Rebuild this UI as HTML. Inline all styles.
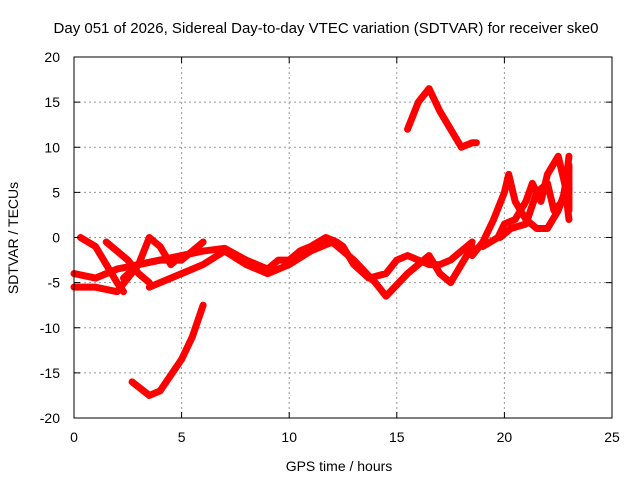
<!DOCTYPE html>
<html><head><meta charset="utf-8"><style>
body{margin:0;background:#fff}
svg{font-family:"Liberation Sans",sans-serif;font-size:15px}
.tk{font-size:14px}
</style></head><body>
<svg id="c" width="640" height="480">
<text x="326" y="33" text-anchor="middle">Day 051 of 2026, Sidereal Day-to-day VTEC variation (SDTVAR) for receiver ske0</text>
<text x="339" y="471" text-anchor="middle" class="tk">GPS time / hours</text>
<text transform="translate(18,238) rotate(-90)" text-anchor="middle" class="tk">SDTVAR / TECUs</text>
<g id="grid"></g><g id="marks"></g><g id="axes"></g>
</svg>
<script>
const xTicks=[0,5,10,15,20,25];
const yTicks=[-20,-15,-10,-5,0,5,10,15,20];
const trackMainX=[0,1,2,3,4,5,6,7,8,8.5,9,9.5,10,10.5,11,11.7,12.2,12.5,13,13.7,14.5,15,15.5,16,16.5,17,17.5,18,18.5];
const trackMainY=[-4,-4.5,-3.5,-3,-2.5,-2,-1.5,-1.2,-2.5,-3,-3.5,-2.5,-2.5,-1.5,-1,0,-0.5,-1,-3,-4.5,-4,-2.5,-2,-2.5,-3,-3,-2.5,-1.5,-0.5];
const trackBX=[3.5,5,6,7,8,9,10,11,12,13,14,14.5,15.5,16,16.5,17,17.5,18,18.5];
const trackBY=[-5.5,-4,-3,-1.5,-3,-4,-3,-1.5,-0.5,-2.5,-5,-6.5,-4,-3,-2,-4,-5,-3,-1];
const trackCX=[0.3,1,1.5,2,2.3];
const trackCY=[0,-1,-3,-5,-6];
const trackDX=[1.5,2.5,3,3.5];
const trackDY=[-0.5,-2.5,-4,-5];
const trackEX=[0,1,2,3,3.5,4,4.5,5];
const trackEY=[-5.5,-5.5,-6,-3,0,-1,-3,-2];
const trackKX=[2.3,3,4,5,5.5,6];
const trackKY=[-4.5,-3,-2.5,-2.5,-1.5,-0.5];
const trackFX=[2.7,3.5,4,5,5.5,6];
const trackFY=[-16,-17.5,-17,-13.5,-11,-7.5];
const trackGX=[15.5,16,16.5,17,17.5,18,18.5,18.7];
const trackGY=[12,15,16.5,14,12,10,10.5,10.5];
const trackHX=[18.5,19,19.5,20,20.2,20.5,21,21.5,22,22.5,22.8,23];
const trackHY=[-2,-0.5,2,5,7,4,2,1,1,3,5,9];
const trackIX=[19,19.7,20,20.5,21,21.3,21.7,22,22.5,22.8,23];
const trackIY=[-1,0,1.5,2,4,6,4,7,9,6,2];
const trackJX=[19.8,20.3,21,21.5,22,22.3,22.7,23,23];
const trackJY=[0,1,1.5,5,6,3,4,8,3];
const tracks=[[trackMainX,trackMainY],[trackBX,trackBY],[trackCX,trackCY],[trackDX,trackDY],[trackEX,trackEY],[trackKX,trackKY],[trackFX,trackFY],[trackGX,trackGY],[trackHX,trackHY],[trackIX,trackIY],[trackJX,trackJY]];
const X0=74,X1=612,Y0=418,Y1=57;
const sx=v=>X0+(v-0)/(25-0)*(X1-X0);
const sy=v=>Y0-(v+20)/40*(Y0-Y1);
const NS="http://www.w3.org/2000/svg";
function mk(t,a,p){const e=document.createElementNS(NS,t);for(const k in a)e.setAttribute(k,a[k]);p.appendChild(e);return e;}
const grid=document.getElementById('grid'),axes=document.getElementById('axes'),marks=document.getElementById('marks');
xTicks.forEach(t=>{const x=sx(t);
 if(t>0&&t<25){const l=mk('line',{x1:x,x2:x,y1:Y1,y2:Y0,stroke:'#999','stroke-dasharray':'2,3'},grid);}
 const tx=mk('text',{x:x,y:Y0+24,'text-anchor':'middle','class':'tk'},axes);tx.textContent=t;
 
 mk('line',{x1:x,x2:x,y1:Y0,y2:Y0-6,stroke:'#000'},axes);mk('line',{x1:x,x2:x,y1:Y1,y2:Y1+6,stroke:'#000'},axes);});
yTicks.forEach(t=>{const y=sy(t);
 if(t>-20&&t<20){const l=mk('line',{x1:X0,x2:X1,y1:y,y2:y,stroke:'#999','stroke-dasharray':'2,3'},grid);}
 const tx=mk('text',{x:X0-14,y:y+5,'text-anchor':'end','class':'tk'},axes);tx.textContent=t;
 
 mk('line',{x1:X0,x2:X0+6,y1:y,y2:y,stroke:'#000'},axes);mk('line',{x1:X1,x2:X1-6,y1:y,y2:y,stroke:'#000'},axes);});
const fr=mk('rect',{x:X0,y:Y1,width:X1-X0,height:Y0-Y1,fill:'none',stroke:'#000'},axes);

tracks.forEach(([xs,ys])=>{const pts=xs.map((v,i)=>sx(v)+','+sy(ys[i])).join(' ');
 const p=mk('polyline',{points:pts,fill:'none',stroke:'#f00','stroke-width':7,'stroke-linejoin':'round','stroke-linecap':'round'},marks);
 });
</script>
</body></html>
